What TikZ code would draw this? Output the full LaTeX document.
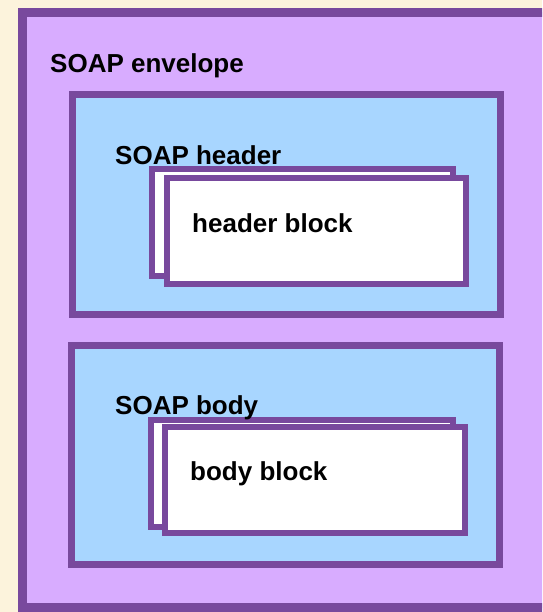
\documentclass[tikz,border=0pt]{standalone}
\usepackage{fontspec}
\setmainfont{Liberation Sans}
\definecolor{cream}{RGB}{252,243,220}
\definecolor{edge}{RGB}{120,73,157}
\definecolor{lavender}{RGB}{216,172,255}
\definecolor{sky}{RGB}{168,214,255}
\begin{document}
\begin{tikzpicture}[x=1pt,y=-1pt,
  panel/.style={draw=edge, inner sep=0pt, outer sep=0pt, anchor=north west},
  envbox/.style={panel, fill=lavender, line width=9pt},
  partbox/.style={panel, fill=sky, line width=7pt},
  blockbox/.style={panel, fill=white, line width=6pt},
  caption/.style={inner sep=0pt, anchor=base west, font=\bfseries\fontsize{26}{30}\selectfont}]
  \useasboundingbox (0,0) rectangle (542,612);
  \fill[cream] (0,0) rectangle (542,612);
  \clip (0,0) rectangle (542,612);

  % envelope
  \node[envbox, minimum width=560pt, minimum height=595pt] (envelope) at (22.5,12.5) {};

  % header part with its stacked blocks
  \node[partbox, minimum width=428pt, minimum height=220pt] (header) at (72.5,94.5) {};
  \node[blockbox, minimum width=301pt, minimum height=107pt] (hblockback) at (152,169) {};
  \node[blockbox, minimum width=299pt, minimum height=106pt] (hblock) at (167,178) {};

  % body part with its stacked blocks
  \node[partbox, minimum width=428pt, minimum height=219pt] (body) at (71.5,345.5) {};
  \node[blockbox, minimum width=302pt, minimum height=107pt] (bblockback) at (151,420) {};
  \node[blockbox, minimum width=300pt, minimum height=106pt] (bblock) at (165,427) {};

  % labels, set above the boxes
  \node[caption] (envlabel) at (50,73) {SOAP envelope};
  \node[caption] (headlabel) at (115,165) {SOAP header};
  \node[caption] (hblocklabel) at (192,232) {header block};
  \node[caption] (bodylabel) at (115,414) {SOAP body};
  \node[caption] (bblocklabel) at (190,480) {body block};
\end{tikzpicture}
\end{document}
